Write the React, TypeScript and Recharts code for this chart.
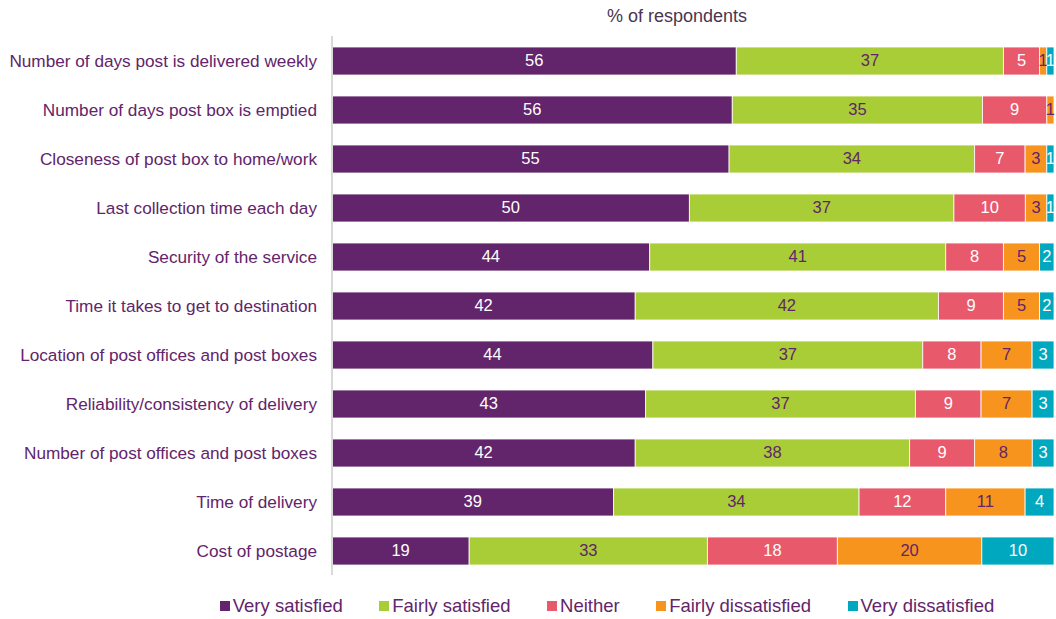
import { BarChart, Bar, XAxis, YAxis, Legend, LabelList } from "recharts";

const categories = [
  "Number of days post is delivered weekly",
  "Number of days post box is emptied",
  "Closeness of post box to home/work",
  "Last collection time each day ",
  "Security of the service",
  "Time it takes to get to destination",
  "Location of post offices and post boxes",
  "Reliability/consistency of delivery",
  "Number of post offices and post boxes",
  "Time of delivery",
  "Cost of postage",
];

const verySatisfied = [56, 56, 55, 50, 44, 42, 44, 43, 42, 39, 19];
const fairlySatisfied = [37, 35, 34, 37, 41, 42, 37, 37, 38, 34, 33];
const neither = [5, 9, 7, 10, 8, 9, 8, 9, 9, 12, 18];
const fairlyDissatisfied = [1, 1, 3, 3, 5, 5, 7, 7, 8, 11, 20];
const veryDissatisfied = [1, 0, 1, 1, 2, 2, 3, 3, 3, 4, 10];

const series = [
  { key: "vs", name: "Very satisfied", color: "#62246a", text: "#ffffff" },
  { key: "fs", name: "Fairly satisfied", color: "#a8cd36", text: "#62246a" },
  { key: "ne", name: "Neither", color: "#e8596b", text: "#ffffff" },
  { key: "fd", name: "Fairly dissatisfied", color: "#f7941e", text: "#62246a" },
  { key: "vd", name: "Very dissatisfied", color: "#00a8bf", text: "#ffffff" },
];

const data = categories.map((name, i) => ({
  name,
  vs: verySatisfied[i],
  fs: fairlySatisfied[i],
  ne: neither[i],
  fd: fairlyDissatisfied[i],
  vd: veryDissatisfied[i],
}));

const FONT = "'Liberation Sans', Arial, sans-serif";

const makeLabel = (fill: string) => (props: any) => {
  const { x, y, width, height, value } = props;
  if (!value) return null;
  return (
    <text
      x={x + width / 2}
      y={y + height / 2 + 1}
      textAnchor="middle"
      dominantBaseline="middle"
      fill={fill}
      fontSize={16.5}
      fontFamily={FONT}
    >
      {value}
    </text>
  );
};

const LegendContent = () => (
  <div
    style={{
      display: "flex",
      justifyContent: "center",
      gap: 36.5,
      paddingLeft: 160,
      paddingTop: 20,
      fontFamily: FONT,
      fontSize: 18.5,
      color: "#62246a",
    }}
  >
    {series.map((s) => (
      <div key={s.key} style={{ display: "flex", alignItems: "center" }}>
        <span
          style={{
            display: "inline-block",
            width: 10,
            height: 10,
            background: s.color,
            marginRight: 3,
          }}
        />
        {s.name}
      </div>
    ))}
  </div>
);

export default function App() {
  return (
    <div style={{ position: "absolute", left: 0, top: 0, width: 1056, height: 619, background: "#fff" }}>
      <div
        style={{
          position: "absolute",
          left: 577,
          top: 6,
          width: 200,
          textAlign: "center",
          fontFamily: FONT,
          fontSize: 18,
          color: "#4a3550",
        }}
      >
        % of respondents
      </div>
      <BarChart
        width={1056}
        height={619}
        data={data}
        layout="vertical"
        stackOffset="expand"
        barSize={28}
        margin={{ top: 36, right: 2, left: 0, bottom: 10 }}
      >
        <XAxis type="number" hide domain={[0, 1]} />
        <YAxis
          type="category"
          dataKey="name"
          width={332}
          tickLine={false}
          tickSize={0}
          tickMargin={15}
          axisLine={{ stroke: "#d9d9d9", strokeWidth: 2 }}
          interval={0}
          tick={{ fill: "#62246a", fontSize: 17.2, fontFamily: FONT }}
        />
        <Legend verticalAlign="bottom" height={34} content={<LegendContent />} />
        {series.map((s) => (
          <Bar
            key={s.key}
            dataKey={s.key}
            name={s.name}
            stackId="a"
            fill={s.color}
            stroke="#ffffff"
            strokeWidth={0.8}
            isAnimationActive={false}
          >
            <LabelList dataKey={s.key} content={makeLabel(s.text)} />
          </Bar>
        ))}
      </BarChart>
    </div>
  );
}
